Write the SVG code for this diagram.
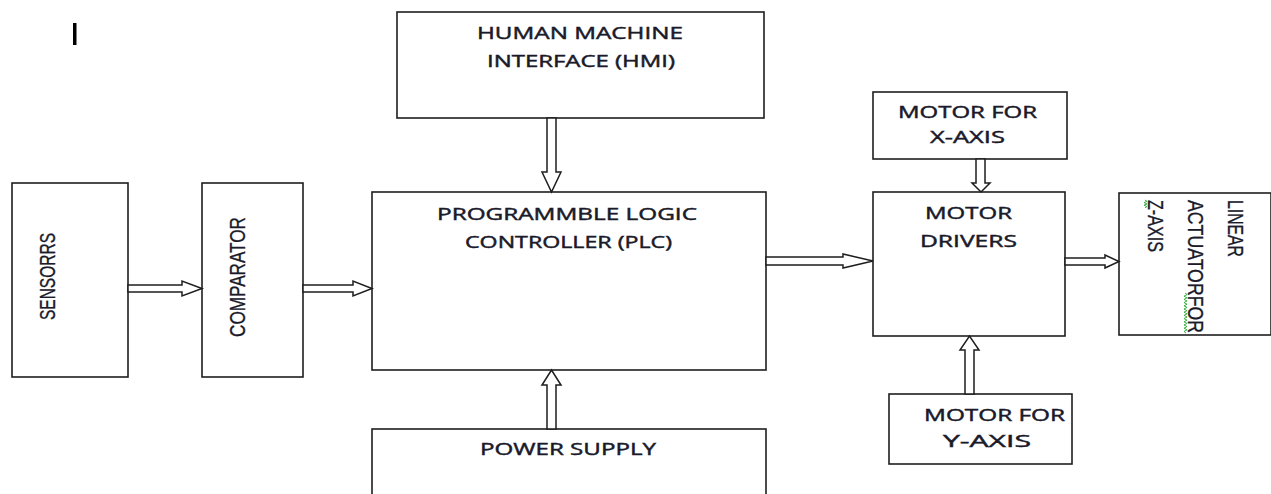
<svg xmlns="http://www.w3.org/2000/svg" width="1271" height="494" viewBox="0 0 1271 494">
<style>
.box{fill:#fff;stroke:#1e1e1e;stroke-width:1.6}
.arr{fill:#fff;stroke:#1e1e1e;stroke-width:1.5;stroke-linejoin:miter}
.t{font-family:"Open Sans","Liberation Sans",sans-serif;font-size:17px;fill:#1a1a2a;stroke:#1a1a2a;stroke-width:0.45}
.r{font-family:"Liberation Sans",Arial,sans-serif;font-size:16px;fill:#1a1a2a;stroke:#1a1a2a;stroke-width:0.25}
.sq{fill:none;stroke:#3cb043;stroke-width:1}
</style>
<rect width="1271" height="494" fill="#fff"/>
<rect x="73" y="23" width="3.5" height="22" fill="#000"/>

<g id="hmi">
<rect class="box" x="397" y="12" width="367" height="106"/>
<text class="t" x="477" y="39" textLength="206" lengthAdjust="spacingAndGlyphs">HUMAN MACHINE</text>
<text class="t" x="487" y="67" textLength="188" lengthAdjust="spacingAndGlyphs">INTERFACE (HMI)</text>
</g>

<g id="sensors">
<rect class="box" x="12" y="183" width="116" height="194"/>
<text class="r" transform="translate(55,320) scale(1.37,1) rotate(-90)" textLength="87" lengthAdjust="spacingAndGlyphs">SENSORRS</text>
</g>

<g id="comparator">
<rect class="box" x="202" y="183" width="101" height="194"/>
<text class="r" transform="translate(245,337) scale(1.37,1) rotate(-90)" textLength="120" lengthAdjust="spacingAndGlyphs">COMPARATOR</text>
</g>

<g id="plc">
<rect class="box" x="372" y="192" width="394" height="178"/>
<text class="t" x="437" y="220" textLength="260" lengthAdjust="spacingAndGlyphs">PROGRAMMBLE LOGIC</text>
<text class="t" x="465" y="248" textLength="207" lengthAdjust="spacingAndGlyphs">CONTROLLER (PLC)</text>
</g>

<g id="power">
<rect class="box" x="372" y="429" width="394" height="70"/>
<text class="t" x="480" y="455" textLength="176" lengthAdjust="spacingAndGlyphs">POWER SUPPLY</text>
</g>

<g id="motorx">
<rect class="box" x="873" y="92" width="194" height="67"/>
<text class="t" x="898" y="118" textLength="139" lengthAdjust="spacingAndGlyphs">MOTOR FOR</text>
<text class="t" x="930" y="143" textLength="75" lengthAdjust="spacingAndGlyphs">X-AXIS</text>
</g>

<g id="drivers">
<rect class="box" x="873" y="192" width="192" height="144"/>
<text class="t" x="925" y="219" textLength="87" lengthAdjust="spacingAndGlyphs">MOTOR</text>
<text class="t" x="920" y="247" textLength="97" lengthAdjust="spacingAndGlyphs">DRIVERS</text>
</g>

<g id="motory">
<rect class="box" x="889" y="394" width="183" height="70"/>
<text class="t" x="924" y="421" textLength="141" lengthAdjust="spacingAndGlyphs">MOTOR FOR</text>
<text class="t" x="943" y="447" textLength="88" lengthAdjust="spacingAndGlyphs">Y-AXIS</text>
</g>

<g id="actuator">
<rect class="box" x="1119" y="193" width="152" height="142"/>
<text class="r" transform="translate(1228,200) scale(1.37,1) rotate(90)" textLength="57" lengthAdjust="spacingAndGlyphs">LINEAR</text>
<text class="r" transform="translate(1188,200) scale(1.37,1) rotate(90)" textLength="133" lengthAdjust="spacingAndGlyphs">ACTUATORFOR</text>
<text class="r" transform="translate(1148,200) scale(1.37,1) rotate(90)" textLength="52" lengthAdjust="spacingAndGlyphs">Z-AXIS</text>
<path class="sq" d="M1145,200 l2,1.3 l-3,1.3 l3,1.3 l-3,1.3 l3,1.3 l-2,1.3"/>
<path class="sq" d="M1185,293 l2,1.6 l-3,1.6 l3,1.6 l-3,1.6 l3,1.6 l-3,1.6 l3,1.6 l-3,1.6 l3,1.6 l-3,1.6 l3,1.6 l-3,1.6 l3,1.6 l-3,1.6 l3,1.6 l-3,1.6 l3,1.6 l-3,1.6 l3,1.6 l-3,1.6 l3,1.6 l-3,1.6 l3,1.6 l-3,1.6 l2,1.6"/>
</g>

<g id="connectors">
<polygon class="arr" points="128,285 182,285 182,281 202,288.5 182,296 182,292 128,292"/>
<polygon class="arr" points="303,285 353,285 353,281 372,288.5 353,296 353,292 303,292"/>
<polygon class="arr" points="766,257 843,257 843,254 873,261 843,268 843,265 766,265"/>
<polygon class="arr" points="1065,258 1105,258 1105,255 1119,261.5 1105,268 1105,265 1065,265"/>
<polygon class="arr" points="547,118 547,172 542,172 551.5,192 561,172 556,172 556,118"/>
<polygon class="arr" points="547,429 547,385 542,385 551.5,370 561,385 556,385 556,429"/>
<polygon class="arr" points="976,159 976,183 972,183 981,192 990,183 985,183 985,159"/>
<polygon class="arr" points="965,394 965,350 960,350 969.5,336 979,350 974,350 974,394"/>
</g>
</svg>
